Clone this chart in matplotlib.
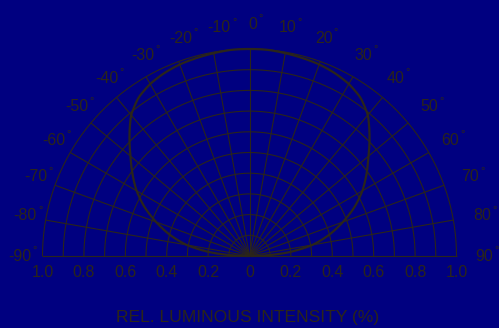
import numpy as np
import matplotlib
matplotlib.use("Agg")
import matplotlib.pyplot as plt

plt.rcParams["font.family"] = ["Liberation Sans", "DejaVu Sans"]

# Relative luminous intensity vs. viewing angle (symmetric pattern)
pattern_angles = [-90, -85, -80, -75, -70, -65, -60, -55, -50, -45, -40, -35, -30,
                  -25, -20, -15, -10, -5, 0, 5, 10, 15, 20, 25, 30, 35, 40, 45,
                  50, 55, 60, 65, 70, 75, 80, 85, 90]
pattern_values = [0.0, 0.18, 0.31, 0.40, 0.48, 0.56, 0.63, 0.69, 0.75, 0.82, 0.89,
                  0.935, 0.96, 0.975, 0.985, 0.99, 0.995, 1.0, 1.0, 1.0, 0.995,
                  0.99, 0.985, 0.975, 0.96, 0.935, 0.89, 0.82, 0.75, 0.69, 0.63,
                  0.56, 0.48, 0.40, 0.31, 0.18, 0.0]

# Grid definition
spoke_angles = list(range(-90, 91, 10))
ring_radii = [0.1, 0.2, 0.3, 0.4, 0.5, 0.6, 0.7, 0.8, 0.9, 1.0]
angle_labels = [f"{a}" for a in spoke_angles]
radius_ticks = [1.0, 0.8, 0.6, 0.4, 0.2]
radius_labels = ["1.0", "0.8", "0.6", "0.4", "0.2"]
axis_title = "REL. LUMINOUS INTENSITY (%)"

# horizontal nudges (pixels) for the angle labels, -90 .. 90
label_nudge_px = [2.5, 4, 4, 5, 5, 6.5, 9, 11, 10, 3,
                  -2, -5, -2.5, -3, 2, 0, 3, 4.5, 3]

BG = "#000080"
INK = "#2b251a"

fig = plt.figure(figsize=(4.99, 3.28), dpi=100, facecolor=BG)
ax = fig.add_axes([0, 0, 1, 1])
ax.set_facecolor(BG)
ax.set_xlim(-1.2053, 1.2053)
ax.set_ylim(-0.3478, 1.2367)
ax.axis("off")


def to_xy(theta_deg, r):
    t = np.radians(np.asarray(theta_deg, dtype=float))
    r = np.asarray(r, dtype=float)
    return r * np.sin(t), r * np.cos(t)


# concentric arcs
arc_t = np.linspace(-90, 90, 361)
for rr in ring_radii:
    x, y = to_xy(arc_t, np.full_like(arc_t, rr))
    ax.plot(x, y, color=INK, lw=0.8, solid_capstyle="butt")

# radial spokes
for a in spoke_angles:
    x, y = to_xy([a, a], [0.0, 1.0])
    ax.plot(x, y, color=INK, lw=0.8, solid_capstyle="butt")

# intensity curve (smooth through the sampled points)
fine_t = np.linspace(-90, 90, 721)
fine_r = np.interp(fine_t, pattern_angles, pattern_values)
kernel = np.ones(9) / 9
padded = np.concatenate([np.full(4, fine_r[0]), fine_r, np.full(4, fine_r[-1])])
smooth_r = np.convolve(padded, kernel, mode="valid")
cx, cy = to_xy(fine_t, smooth_r)
ax.plot(cx, cy, color=INK, lw=1.6)

# angle labels with a small degree ring
label_r = 1.12
for a, lab, dx in zip(spoke_angles, angle_labels, label_nudge_px):
    x, y = to_xy(a, label_r)
    t = ax.annotate(lab, xy=(float(x), float(y)), xycoords="data",
                    xytext=(dx * 0.72, 0), textcoords="offset points",
                    color=INK, fontsize=11.5, ha="center", va="center")
    ax.annotate("°", xy=(1.0, 1.0), xycoords=t, xytext=(0.8, 2.5),
                textcoords="offset points", ha="left", va="top",
                color=INK, fontsize=8)

# radial value labels along the baseline
label_y = -0.08
for v, lab in zip(radius_ticks, radius_labels):
    ax.text(-v, label_y, lab, color=INK, fontsize=11.5, ha="center", va="center")
    ax.text(v, label_y, lab, color=INK, fontsize=11.5, ha="center", va="center")
ax.text(0, label_y, "0", color=INK, fontsize=11.5, ha="center", va="center")

ax.text(-0.007, -0.295, axis_title, color=INK, fontsize=12.6,
        ha="center", va="center")

fig.savefig("out.png", dpi=100, facecolor=BG)
